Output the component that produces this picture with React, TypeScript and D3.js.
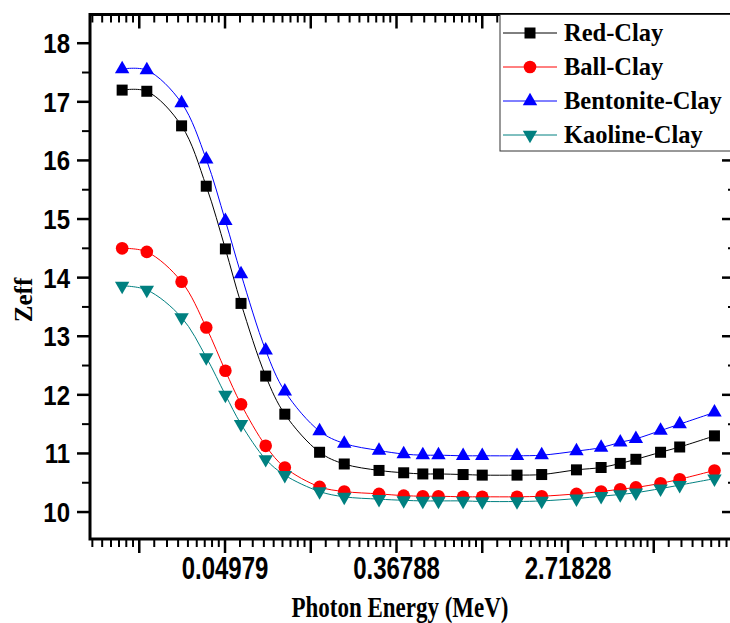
import React, { useEffect, useRef } from 'react';
import * as d3 from 'd3';

// photon energies (MeV)
const energies = [0.015, 0.02, 0.03, 0.04, 0.05, 0.06, 0.08, 0.1, 0.15, 0.2, 0.3, 0.4, 0.5, 0.6, 0.8, 1, 1.5, 2, 3, 4, 5, 6, 8, 10, 15];

const redClay = [17.2, 17.18, 16.59, 15.56, 14.49, 13.56, 12.32, 11.67, 11.02, 10.82, 10.71, 10.67, 10.65, 10.65, 10.64, 10.63, 10.63, 10.64, 10.72, 10.76, 10.83, 10.9, 11.02, 11.11, 11.3];
const ballClay = [14.5, 14.44, 13.93, 13.15, 12.41, 11.84, 11.13, 10.76, 10.43, 10.35, 10.31, 10.28, 10.27, 10.27, 10.26, 10.26, 10.26, 10.27, 10.31, 10.35, 10.39, 10.42, 10.49, 10.56, 10.71];
const bentoniteClay = [17.56, 17.54, 16.98, 16.02, 14.97, 14.06, 12.76, 12.06, 11.38, 11.17, 11.05, 10.99, 10.97, 10.97, 10.96, 10.96, 10.96, 10.97, 11.04, 11.1, 11.19, 11.25, 11.39, 11.5, 11.7];
const kaolineClay = [13.86, 13.79, 13.32, 12.64, 12.0, 11.5, 10.9, 10.63, 10.35, 10.26, 10.22, 10.2, 10.19, 10.19, 10.19, 10.18, 10.18, 10.19, 10.23, 10.27, 10.3, 10.33, 10.4, 10.46, 10.57];

const seriesNames = ['Red-Clay', 'Ball-Clay', 'Bentonite-Clay', 'Kaoline-Clay'];
const seriesColors = ['#000000', '#ff0000', '#0000ff', '#008080'];
const seriesSymbols = ['square', 'circle', 'triangle', 'triangleDown'];

const xMajorExponents = [-4, -3, -2, -1, 0, 1, 2];
const xTickLabels = ['0.04979', '0.36788', '2.71828']; // e^-3, e^-1, e^1
const xLabelExponents = [-3, -1, 1];
const yTicks = [10, 11, 12, 13, 14, 15, 16, 17, 18];

const App = () => {
  const svgRef = useRef<SVGSVGElement>(null);

  useEffect(() => {
    document.body.style.margin = '0';
    const width = 730;
    const height = 623;
    const left = 90, right = 735, top = 14.5, bottom = 539;

    const svg = d3.select(svgRef.current).attr('width', width).attr('height', height);
    svg.selectAll('*').remove();

    const x = d3.scaleLog().base(Math.E).domain([0.01031, 19.06]).range([left, right]);
    const y = d3.scaleLinear().domain([9.54, 18.49]).range([bottom, top]);

    const sans = 'Liberation Sans, Arial, sans-serif';
    const serif = 'Liberation Serif, Times New Roman, serif';

    // minor ticks on x: 8 between each power of e
    const xMinor: number[] = [];
    for (let k = -5; k <= 3; k++) {
      for (let j = 1; j <= 8; j++) {
        const v = Math.exp(k) * (1 + (j * (Math.E - 1)) / 9);
        if (v > x.domain()[0] && v < x.domain()[1]) xMinor.push(v);
      }
    }
    const xMajor = xMajorExponents.map((k) => Math.exp(k));
    const yMinor = yTicks.map((v) => v + 0.5).concat([9.5]).filter((v) => v > 9.54 && v < 18.49);

    const g = svg.append('g');

    // data
    const symbolFor = (s: string) => {
      if (s === 'square') return d3.symbol(d3.symbolSquare, 121)();
      if (s === 'circle') return d3.symbol(d3.symbolCircle, 125)();
      return d3.symbol(d3.symbolTriangle, 90)();
    };
    const allSeries = [redClay, ballClay, bentoniteClay, kaolineClay];
    const line = d3
      .line<number>()
      .x((_, i) => x(energies[i]))
      .y((d) => y(d))
      .curve(d3.curveCatmullRom.alpha(0.5));

    allSeries.forEach((vals, si) => {
      g.append('path')
        .datum(vals)
        .attr('fill', 'none')
        .attr('stroke', seriesColors[si])
        .attr('stroke-width', 1)
        .attr('d', line);
      g.selectAll(`.m${si}`)
        .data(vals)
        .enter()
        .append('path')
        .attr('class', `m${si}`)
        .attr('d', symbolFor(seriesSymbols[si]))
        .attr('transform', (d, i) => {
          const rot = seriesSymbols[si] === 'triangleDown' ? ' rotate(180)' : '';
          return `translate(${x(energies[i])},${y(d)})${rot}`;
        })
        .attr('fill', seriesColors[si]);
    });

    const ax = svg.append('g').attr('stroke', '#000');
    // bottom ticks out, top ticks in
    xMajor.forEach((v) => {
      ax.append('line').attr('x1', x(v)).attr('x2', x(v)).attr('y1', bottom).attr('y2', bottom + 14).attr('stroke-width', 2.5);
      ax.append('line').attr('x1', x(v)).attr('x2', x(v)).attr('y1', top).attr('y2', top + 14).attr('stroke-width', 2.5);
    });
    xMinor.forEach((v) => {
      ax.append('line').attr('x1', x(v)).attr('x2', x(v)).attr('y1', bottom).attr('y2', bottom + 8).attr('stroke-width', 2);
      ax.append('line').attr('x1', x(v)).attr('x2', x(v)).attr('y1', top).attr('y2', top + 8).attr('stroke-width', 2);
    });
    yTicks.forEach((v) => {
      ax.append('line').attr('x1', left - 13).attr('x2', left).attr('y1', y(v)).attr('y2', y(v)).attr('stroke-width', 2.5);
      ax.append('line').attr('x1', right - 13).attr('x2', right).attr('y1', y(v)).attr('y2', y(v)).attr('stroke-width', 2.5);
    });
    yMinor.forEach((v) => {
      ax.append('line').attr('x1', left - 8).attr('x2', left).attr('y1', y(v)).attr('y2', y(v)).attr('stroke-width', 2);
      ax.append('line').attr('x1', right - 7).attr('x2', right).attr('y1', y(v)).attr('y2', y(v)).attr('stroke-width', 2);
    });
    // frame
    ax.append('rect')
      .attr('x', left)
      .attr('y', top)
      .attr('width', right - left)
      .attr('height', bottom - top)
      .attr('fill', 'none')
      .attr('stroke-width', 3);

    // tick labels
    yTicks.forEach((v) => {
      svg.append('text')
        .attr('transform', `translate(70,${y(v)}) scale(1,1.15)`)
        .attr('dy', '0.36em')
        .attr('text-anchor', 'end')
        .attr('font-family', sans)
        .attr('font-weight', 'bold')
        .attr('font-size', 24)
        .text(v);
    });
    xLabelExponents.forEach((k, i) => {
      svg.append('text')
        .attr('transform', `translate(${x(Math.exp(k))},579) scale(1,1.3)`)
        .attr('text-anchor', 'middle')
        .attr('font-family', sans)
        .attr('font-weight', 'bold')
        .attr('font-size', 24)
        .text(xTickLabels[i]);
    });

    // axis titles
    svg.append('text')
      .attr('transform', 'translate(400,617) scale(1,1.3)')
      .attr('text-anchor', 'middle')
      .attr('font-family', serif)
      .attr('font-weight', 'bold')
      .attr('font-size', 23)
      .text('Photon Energy (MeV)');
    svg.append('text')
      .attr('transform', 'translate(32,300) rotate(-90)')
      .attr('text-anchor', 'middle')
      .attr('font-family', serif)
      .attr('font-weight', 'bold')
      .attr('font-size', 25)
      .text('Zeff');

    // legend
    const lg = svg.append('g');
    lg.append('rect')
      .attr('x', 500)
      .attr('y', top)
      .attr('width', 250)
      .attr('height', 151 - top)
      .attr('fill', '#fff')
      .attr('stroke', '#333')
      .attr('stroke-width', 1);
    const legendY = [33, 67, 101, 135];
    seriesNames.forEach((name, si) => {
      const ly = legendY[si];
      lg.append('line').attr('x1', 503).attr('x2', 557).attr('y1', ly).attr('y2', ly).attr('stroke', seriesColors[si]).attr('stroke-width', 1);
      const rot = seriesSymbols[si] === 'triangleDown' ? ' rotate(180)' : '';
      lg.append('path')
        .attr('d', symbolFor(seriesSymbols[si]))
        .attr('transform', `translate(530,${ly})${rot}`)
        .attr('fill', seriesColors[si]);
      lg.append('text')
        .attr('x', 564)
        .attr('y', ly)
        .attr('dy', '0.33em')
        .attr('font-family', serif)
        .attr('font-weight', 'bold')
        .attr('font-size', 24.5)
        .text(name);
    });
  }, []);

  return <svg ref={svgRef} style={{ display: 'block' }}></svg>;
};

export default App;
